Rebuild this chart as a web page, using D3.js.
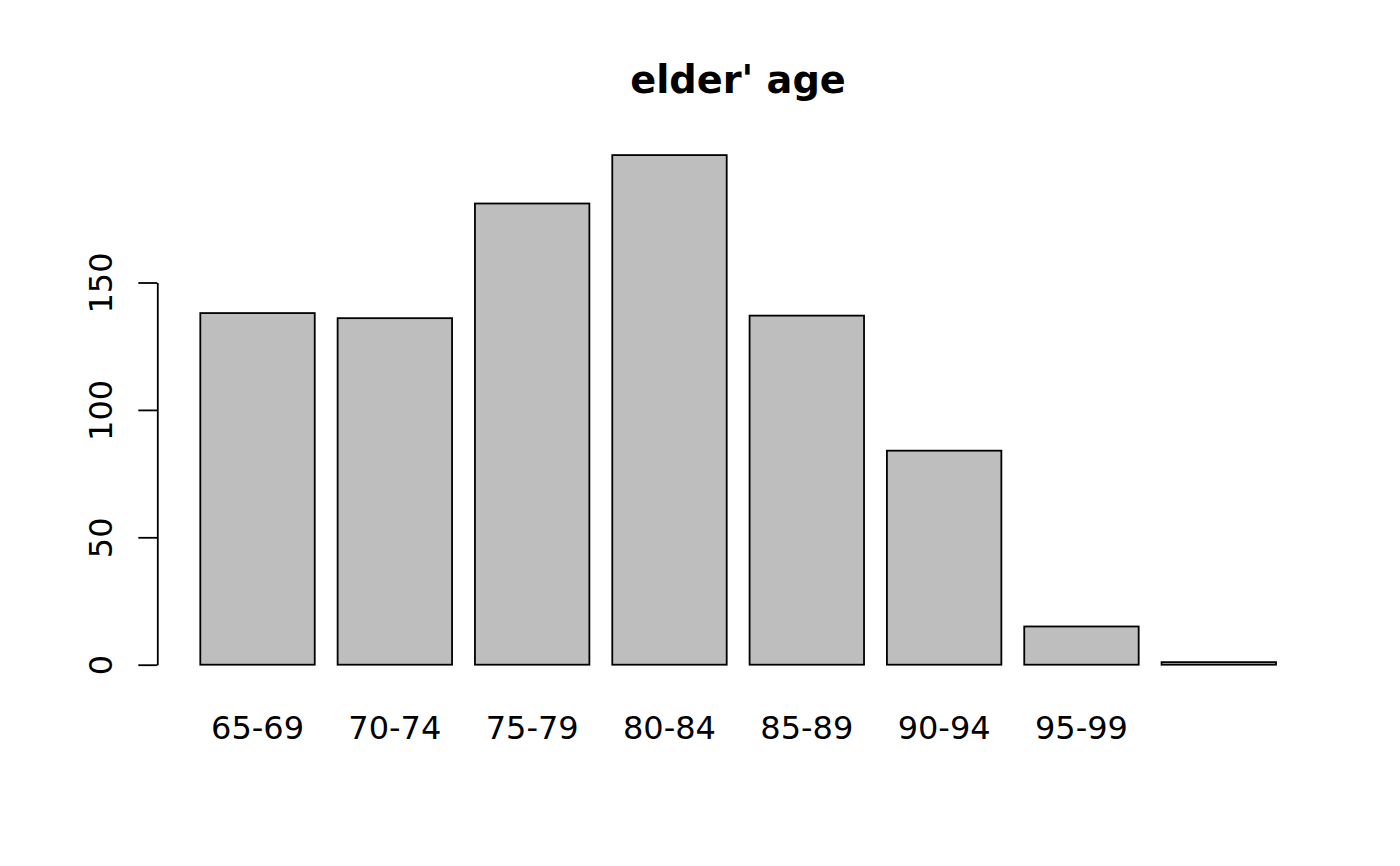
<!DOCTYPE html>
<html><head><meta charset="utf-8">
<script src="https://cdn.jsdelivr.net/npm/d3@7"></script>
<style>body{margin:0;background:#fff}svg{display:block}text{font-family:"DejaVu Sans",sans-serif}</style>
</head><body>
<svg id="chart" width="1400" height="866"></svg>
<script>
const categories = ["65-69","70-74","75-79","80-84","85-89","90-94","95-99","100+"];
const tickLabels = ["65-69","70-74","75-79","80-84","85-89","90-94","95-99",""];
const counts = [138,136,181,200,137,84,15,1];
const yTicks = [0,50,100,150];
const title = "elder' age";

const svg = d3.select("#chart");
const x = d3.scaleBand().domain(categories).range([200.3,1276]).paddingInner(0.2/1.2).paddingOuter(0);
const y = d3.scaleLinear().domain([0,150]).range([664.7,282.5]);

svg.append("g").selectAll("rect").data(categories).join("rect")
  .attr("x", d => x(d)).attr("y", (d,i) => y(counts[i]))
  .attr("width", x.bandwidth()).attr("height", (d,i) => y(0) - y(counts[i]))
  .attr("fill","#bebebe").attr("stroke","#000").attr("stroke-width",1.8);

const yAxis = d3.axisLeft(y).tickValues(yTicks).tickSize(19).tickSizeOuter(0).tickFormat(d3.format("d"));
const gy = svg.append("g").attr("transform","translate(157.3,0)").call(yAxis);
gy.select(".domain").attr("stroke","#000").attr("stroke-width",1.8);
gy.selectAll(".tick line").attr("stroke","#000").attr("stroke-width",1.8);
gy.selectAll(".tick text").attr("font-size",32).attr("fill","#000")
  .attr("text-anchor","middle").attr("x",0).attr("dy",0)
  .attr("transform","translate(-45.5,0) rotate(-90)");

svg.append("g").selectAll("text").data(categories).join("text")
  .attr("x", d => x(d) + x.bandwidth()/2).attr("y", 739)
  .attr("text-anchor","middle").attr("font-size",32).attr("fill","#000")
  .text((d,i) => tickLabels[i]);

svg.append("text").attr("x",738).attr("y",93).attr("text-anchor","middle")
  .attr("font-size",38.3).attr("font-weight","bold").attr("fill","#000").text(title);
</script>
</body></html>
